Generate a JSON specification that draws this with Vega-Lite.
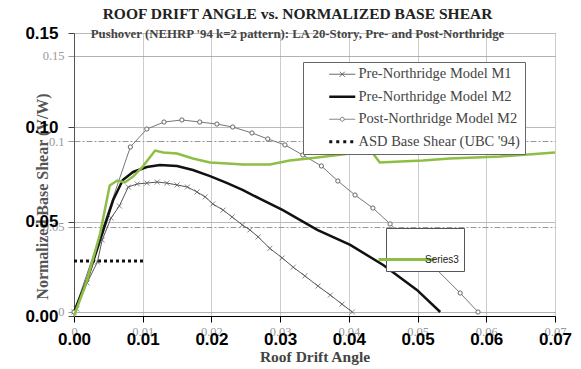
{
  "$schema": "https://vega.github.io/schema/vega-lite/v6.json",
  "width": 481,
  "height": 283,
  "autosize": {"type": "none"},
  "padding": {"left": 74, "top": 33, "right": 26, "bottom": 53},
  "background": "white",
  "config": {"view": {"stroke": "#777", "strokeWidth": 1}},
  "title": {
    "text": "ROOF DRIFT ANGLE vs. NORMALIZED BASE SHEAR",
    "subtitle": "Pushover (NEHRP '94 k=2 pattern): LA 20-Story, Pre- and Post-Northridge",
    "anchor": "middle",
    "dx": -17,
    "offset": -17,
    "font": "Liberation Serif",
    "fontSize": 15.5,
    "fontWeight": "bold",
    "color": "#222",
    "subtitleFont": "Liberation Serif",
    "subtitleFontSize": 12.8,
    "subtitleFontWeight": "bold",
    "subtitleColor": "#444",
    "subtitlePadding": 6
  },
  "datasets": {
    "inner": [
      {"series": "Pre-Northridge Model M1", "x": 0, "y": 0},
      {"series": "Pre-Northridge Model M1", "x": 0.0004, "y": 0.0018},
      {"series": "Pre-Northridge Model M1", "x": 0.0019, "y": 0.017},
      {"series": "Pre-Northridge Model M1", "x": 0.0034, "y": 0.0292},
      {"series": "Pre-Northridge Model M1", "x": 0.0041, "y": 0.0421},
      {"series": "Pre-Northridge Model M1", "x": 0.0054, "y": 0.055},
      {"series": "Pre-Northridge Model M1", "x": 0.0066, "y": 0.062},
      {"series": "Pre-Northridge Model M1", "x": 0.0079, "y": 0.0731},
      {"series": "Pre-Northridge Model M1", "x": 0.0092, "y": 0.0749},
      {"series": "Pre-Northridge Model M1", "x": 0.0106, "y": 0.0754},
      {"series": "Pre-Northridge Model M1", "x": 0.0121, "y": 0.076},
      {"series": "Pre-Northridge Model M1", "x": 0.0135, "y": 0.0754},
      {"series": "Pre-Northridge Model M1", "x": 0.015, "y": 0.0743},
      {"series": "Pre-Northridge Model M1", "x": 0.0165, "y": 0.0731},
      {"series": "Pre-Northridge Model M1", "x": 0.0179, "y": 0.0702},
      {"series": "Pre-Northridge Model M1", "x": 0.0191, "y": 0.0673},
      {"series": "Pre-Northridge Model M1", "x": 0.0202, "y": 0.0632},
      {"series": "Pre-Northridge Model M1", "x": 0.0217, "y": 0.0596},
      {"series": "Pre-Northridge Model M1", "x": 0.023, "y": 0.0556},
      {"series": "Pre-Northridge Model M1", "x": 0.0245, "y": 0.0509},
      {"series": "Pre-Northridge Model M1", "x": 0.0256, "y": 0.048},
      {"series": "Pre-Northridge Model M1", "x": 0.0268, "y": 0.0439},
      {"series": "Pre-Northridge Model M1", "x": 0.0285, "y": 0.0372},
      {"series": "Pre-Northridge Model M1", "x": 0.0303, "y": 0.0316},
      {"series": "Pre-Northridge Model M1", "x": 0.0319, "y": 0.0262},
      {"series": "Pre-Northridge Model M1", "x": 0.0336, "y": 0.0211},
      {"series": "Pre-Northridge Model M1", "x": 0.0355, "y": 0.0152},
      {"series": "Pre-Northridge Model M1", "x": 0.0373, "y": 0.0099},
      {"series": "Pre-Northridge Model M1", "x": 0.039, "y": 0.0046},
      {"series": "Pre-Northridge Model M1", "x": 0.0405, "y": 0},
      {"series": "Pre-Northridge Model M2", "x": 0, "y": 0},
      {"series": "Pre-Northridge Model M2", "x": 0.0019, "y": 0.0187},
      {"series": "Pre-Northridge Model M2", "x": 0.0038, "y": 0.0421},
      {"series": "Pre-Northridge Model M2", "x": 0.0057, "y": 0.0655},
      {"series": "Pre-Northridge Model M2", "x": 0.0071, "y": 0.0772},
      {"series": "Pre-Northridge Model M2", "x": 0.0086, "y": 0.0819},
      {"series": "Pre-Northridge Model M2", "x": 0.0106, "y": 0.0848},
      {"series": "Pre-Northridge Model M2", "x": 0.0125, "y": 0.086},
      {"series": "Pre-Northridge Model M2", "x": 0.015, "y": 0.0854},
      {"series": "Pre-Northridge Model M2", "x": 0.0173, "y": 0.083},
      {"series": "Pre-Northridge Model M2", "x": 0.0198, "y": 0.0795},
      {"series": "Pre-Northridge Model M2", "x": 0.0223, "y": 0.0754},
      {"series": "Pre-Northridge Model M2", "x": 0.0246, "y": 0.0713},
      {"series": "Pre-Northridge Model M2", "x": 0.0271, "y": 0.0661},
      {"series": "Pre-Northridge Model M2", "x": 0.0304, "y": 0.0596},
      {"series": "Pre-Northridge Model M2", "x": 0.0354, "y": 0.048},
      {"series": "Pre-Northridge Model M2", "x": 0.0402, "y": 0.0392},
      {"series": "Pre-Northridge Model M2", "x": 0.045, "y": 0.0275},
      {"series": "Pre-Northridge Model M2", "x": 0.0499, "y": 0.0129},
      {"series": "Pre-Northridge Model M2", "x": 0.0533, "y": 0},
      {"series": "Post-Northridge Model M2", "x": 0, "y": 0},
      {"series": "Post-Northridge Model M2", "x": 0.0082, "y": 0.0965},
      {"series": "Post-Northridge Model M2", "x": 0.0106, "y": 0.107},
      {"series": "Post-Northridge Model M2", "x": 0.0131, "y": 0.1111},
      {"series": "Post-Northridge Model M2", "x": 0.0157, "y": 0.1123},
      {"series": "Post-Northridge Model M2", "x": 0.0183, "y": 0.1111},
      {"series": "Post-Northridge Model M2", "x": 0.0208, "y": 0.1099},
      {"series": "Post-Northridge Model M2", "x": 0.0231, "y": 0.1082},
      {"series": "Post-Northridge Model M2", "x": 0.0259, "y": 0.1047},
      {"series": "Post-Northridge Model M2", "x": 0.0282, "y": 0.1012},
      {"series": "Post-Northridge Model M2", "x": 0.0307, "y": 0.0977},
      {"series": "Post-Northridge Model M2", "x": 0.0333, "y": 0.0918},
      {"series": "Post-Northridge Model M2", "x": 0.036, "y": 0.0854},
      {"series": "Post-Northridge Model M2", "x": 0.0384, "y": 0.0766},
      {"series": "Post-Northridge Model M2", "x": 0.0409, "y": 0.0684},
      {"series": "Post-Northridge Model M2", "x": 0.0435, "y": 0.0608},
      {"series": "Post-Northridge Model M2", "x": 0.046, "y": 0.0515},
      {"series": "Post-Northridge Model M2", "x": 0.0511, "y": 0.0316},
      {"series": "Post-Northridge Model M2", "x": 0.0562, "y": 0.0111},
      {"series": "Post-Northridge Model M2", "x": 0.0588, "y": 0},
      {"series": "ASD Base Shear (UBC '94)", "x": 0, "y": 0.0298},
      {"series": "ASD Base Shear (UBC '94)", "x": 0.0103, "y": 0.0298}
    ],
    "s3": [
      {"series": "Series3", "x": 0, "y": 0},
      {"series": "Series3", "x": 0.0019, "y": 0.0188},
      {"series": "Series3", "x": 0.0038, "y": 0.0437},
      {"series": "Series3", "x": 0.0052, "y": 0.0692},
      {"series": "Series3", "x": 0.0063, "y": 0.0718},
      {"series": "Series3", "x": 0.0074, "y": 0.0708},
      {"series": "Series3", "x": 0.0086, "y": 0.0739},
      {"series": "Series3", "x": 0.01, "y": 0.0792},
      {"series": "Series3", "x": 0.0118, "y": 0.0877},
      {"series": "Series3", "x": 0.013, "y": 0.0867},
      {"series": "Series3", "x": 0.015, "y": 0.0861},
      {"series": "Series3", "x": 0.0173, "y": 0.0835},
      {"series": "Series3", "x": 0.0198, "y": 0.0814},
      {"series": "Series3", "x": 0.0223, "y": 0.0808},
      {"series": "Series3", "x": 0.0246, "y": 0.0803},
      {"series": "Series3", "x": 0.0271, "y": 0.0803},
      {"series": "Series3", "x": 0.0285, "y": 0.0803},
      {"series": "Series3", "x": 0.0314, "y": 0.0824},
      {"series": "Series3", "x": 0.0354, "y": 0.084},
      {"series": "Series3", "x": 0.0402, "y": 0.0861},
      {"series": "Series3", "x": 0.0434, "y": 0.0867},
      {"series": "Series3", "x": 0.0445, "y": 0.0814},
      {"series": "Series3", "x": 0.0475, "y": 0.0819},
      {"series": "Series3", "x": 0.0508, "y": 0.0824},
      {"series": "Series3", "x": 0.0547, "y": 0.0835},
      {"series": "Series3", "x": 0.062, "y": 0.0845},
      {"series": "Series3", "x": 0.07, "y": 0.0867}
    ]
  },
  "layer": [
    {
      "data": {"name": "inner"},
      "encoding": {
        "x": {
          "field": "x", "type": "quantitative",
          "scale": {"domain": [0, 0.07], "nice": false, "zero": false},
          "axis": {
            "orient": "bottom",
            "values": [0, 0.01, 0.02, 0.03, 0.04, 0.05, 0.06, 0.07],
            "format": "~g",
            "labelFont": "Liberation Serif", "labelFontSize": 12.5, "labelColor": "#999",
            "labelPadding": 4, "labelFlush": false, "labelOverlap": false, "labelBound": false,
            "tickColor": "#aaa", "tickSize": 5,
            "domain": false,
            "grid": true, "gridColor": "#999", "gridDash": [6, 2, 2, 2], "gridWidth": 1,
            "title": "Roof Drift Angle",
            "titleFont": "Liberation Serif", "titleFontSize": 15.5, "titleFontWeight": "bold", "titleColor": "#444",
            "titleY": 33, "titleBaseline": "top"
          }
        },
        "y": {
          "field": "y", "type": "quantitative",
          "scale": {"domain": [-0.00234, 0.16316], "nice": false, "zero": false},
          "axis": {
            "orient": "left",
            "values": [0, 0.05, 0.1, 0.15],
            "format": "~g",
            "labelFont": "Liberation Serif", "labelFontSize": 12.5, "labelColor": "#999",
            "labelPadding": 4, "labelFlush": false, "labelOverlap": false,
            "tickColor": "#999", "tickSize": 6,
            "domain": false,
            "grid": true, "gridColor": "#999", "gridWidth": 1,
            "gridDash": {"condition": {"test": "datum.value === 0 || datum.value === 0.15", "value": [1, 0]}, "value": [6, 2, 2, 2]},
            "title": "Normalized Base Shear (V/W)",
            "titleFont": "Liberation Serif", "titleFontSize": 16, "titleFontWeight": "bold", "titleColor": "#555",
            "titleX": -24, "titleY": 163
          }
        },
        "stroke": {
          "field": "series", "type": "nominal",
          "scale": {
            "domain": ["Pre-Northridge Model M1", "Pre-Northridge Model M2", "Post-Northridge Model M2", "ASD Base Shear (UBC '94)"],
            "range": ["#555555", "#111111", "#777777", "#111111"]
          },
          "legend": {
            "orient": "none", "legendX": 229, "legendY": 29, "title": null,
            "padding": 5, "rowPadding": 7.5, "symbolOffset": 27, "labelOffset": 9, "symbolSize": 100,
            "symbolType": "stroke",
            "fillColor": "white", "strokeColor": "#666",
            "labelFont": "Liberation Serif", "labelFontSize": 14.5, "labelColor": "#444", "labelLimit": 300,
            "encode": {
              "symbols": {
                "update": {
                  "shape": {"signal": "datum.index === 0 ? 'M-2.6,0H2.6M-0.5,-0.5L0.5,0.5M-0.5,0.5L0.5,-0.5' : datum.index === 2 ? 'M-2.6,0H-0.4M0.4,0H2.6M-0.4,0A0.4,0.4 0 1,1 0.4,0A0.4,0.4 0 1,1 -0.4,0' : 'M-2.6,0H2.6'"},
                  "strokeWidth": {"signal": "datum.index === 1 ? 2.5 : datum.index === 3 ? 3 : 1"},
                  "strokeDash": {"signal": "datum.index === 3 ? [3, 4] : [1, 0]"},
                  "fill": {"value": "white"}
                }
              }
            }
          }
        }
      },
      "layer": [
        {
          "transform": [{"filter": {"field": "series", "equal": "Pre-Northridge Model M1"}}],
          "mark": {"type": "line", "strokeWidth": 1}
        },
        {
          "transform": [{"filter": {"field": "series", "equal": "Post-Northridge Model M2"}}],
          "mark": {"type": "line", "strokeWidth": 1}
        },
        {
          "transform": [{"filter": {"field": "series", "equal": "Pre-Northridge Model M2"}}],
          "mark": {"type": "line", "strokeWidth": 2.5}
        },
        {
          "transform": [{"filter": {"field": "series", "equal": "ASD Base Shear (UBC '94)"}}],
          "mark": {"type": "line", "strokeWidth": 3, "strokeDash": [3, 3], "strokeCap": "butt"}
        },
        {
          "transform": [{"filter": {"field": "series", "equal": "Pre-Northridge Model M1"}}],
          "mark": {"type": "point", "shape": "M-1,-1L1,1M-1,1L1,-1", "size": 25, "strokeWidth": 1, "filled": false},
          "encoding": {"stroke": {"value": "#555"}}
        },
        {
          "transform": [{"filter": {"field": "series", "equal": "Post-Northridge Model M2"}}],
          "mark": {"type": "point", "shape": "circle", "size": 18, "fill": "white", "filled": true, "strokeWidth": 1, "opacity": 1},
          "encoding": {"stroke": {"value": "#666"}}
        }
      ]
    },
    {
      "data": {"name": "s3"},
      "mark": {"type": "line", "strokeWidth": 2.5},
      "encoding": {
        "x": {
          "field": "x", "type": "quantitative",
          "scale": {"domain": [0, 0.07], "nice": false, "zero": false},
          "axis": {
            "orient": "bottom",
            "values": [0, 0.01, 0.02, 0.03, 0.04, 0.05, 0.06, 0.07],
            "format": ".2f",
            "labelFont": "Liberation Sans", "labelFontSize": 17, "labelFontWeight": "bold", "labelColor": "#000",
            "labelPadding": 9, "labelFlush": false, "labelOverlap": false, "labelBound": false,
            "tickColor": "#000", "tickSize": 6,
            "domainColor": "#000",
            "grid": true, "gridColor": "#ccc",
            "title": null
          }
        },
        "y": {
          "field": "y", "type": "quantitative",
          "scale": {"domain": [0, 0.15], "nice": false, "zero": false},
          "axis": {
            "orient": "left",
            "values": [0, 0.05, 0.1, 0.15],
            "format": ".2f",
            "labelFont": "Liberation Sans", "labelFontSize": 17, "labelFontWeight": "bold", "labelColor": "#000",
            "labelPadding": 10, "labelFlush": false, "labelOverlap": false,
            "tickColor": "#444", "tickSize": 6,
            "domainColor": "#555",
            "grid": true, "gridColor": "#bbb",
            "title": null
          }
        },
        "color": {
          "field": "series", "type": "nominal",
          "scale": {"range": ["#8DBF44"]},
          "legend": {
            "orient": "none", "legendX": 312, "legendY": 195, "title": null,
            "padding": 5, "symbolSize": 2500, "symbolOffset": -11, "labelOffset": -8,
            "symbolType": "M-1.12,0H1.12", "symbolStrokeWidth": 3,
            "fillColor": "white", "strokeColor": "#555",
            "labelFont": "Liberation Sans", "labelFontSize": 10, "labelColor": "#222"
          }
        }
      }
    }
  ],
  "resolve": {
    "scale": {"x": "independent", "y": "independent"},
    "axis": {"x": "independent", "y": "independent"}
  }
}
